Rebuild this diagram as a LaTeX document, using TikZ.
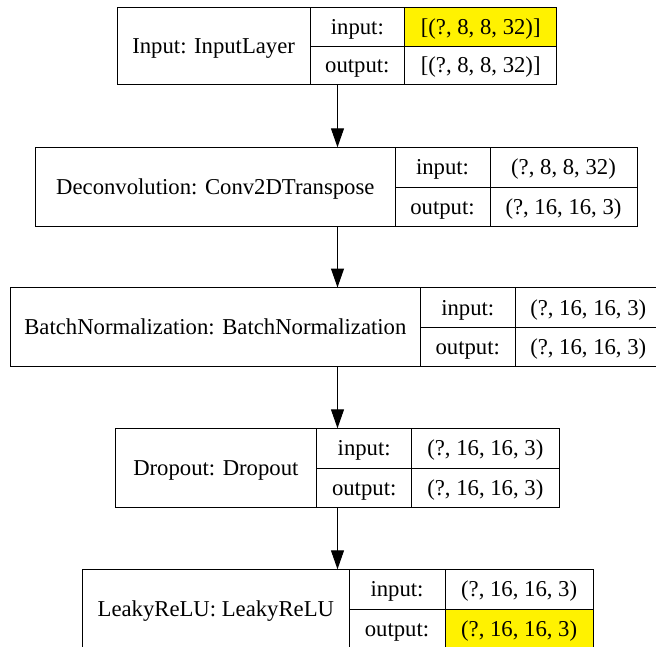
\documentclass[tikz,border=0pt]{standalone}
\usepackage{fontspec}
\setmainfont{Liberation Serif}
\usetikzlibrary{arrows.meta}

% One layer record: frame, dividers, layer name and the input:/output: keys.
% #1 name, #2 left, #3 first divider, #4 second divider, #5 right,
% #6 top, #7 row split, #8 bottom, #9 layer caption
\newcommand\layerrecord[9]{%
  \node[frame, anchor=north west, minimum width={#5-#2}, minimum height={#8-#6}] (#1) at (#2,#6) {};
  \draw[cell] (#3,#6) -- (#3,#8);
  \draw[cell] (#4,#6) -- (#4,#8);
  \draw[cell] (#3,#7) -- (#5,#7);
  \node[lbl] (#1-name) at ({(#2+#3)/2},{(#6+#8)/2}) {#9};
  \node[lbl] (#1-inkey) at ({(#3+#4)/2},{(#6+#7)/2}) {input:};
  \node[lbl] (#1-outkey) at ({(#3+#4)/2},{(#7+#8)/2}) {output:};
}
% Shape values: #1 name, #2 left of value column, #3 right,
% #4 top, #5 row split, #6 bottom, #7 input shape, #8 output shape
\newcommand\layershapes[8]{%
  \node[lbl] (#1-in) at ({(#2+#3)/2},{(#4+#5)/2}) {#7};
  \node[lbl] (#1-out) at ({(#2+#3)/2},{(#5+#6)/2}) {#8};
}

\begin{document}
\begin{tikzpicture}[x=1pt,y=-1pt,
  frame/.style={draw=black, line width=1pt, inner sep=0pt, outer sep=0pt},
  cell/.style={draw=black, line width=1pt},
  lbl/.style={font=\fontsize{22.7}{27}\selectfont, inner sep=0pt, text height=15pt, text depth=0pt, anchor=center},
  flow/.style={draw=black, line width=1pt, -{Triangle[length=19pt,width=13pt]}},
  hilite/.style={fill=yellow}]
\useasboundingbox (0,0) rectangle (656,646);
\clip (0,0) rectangle (656,646);
\fill[white] (0,0) rectangle (656,646);

% highlighted shape cells
\fill[hilite] (404.7,7.3) rectangle (556.7,46.7);
\fill[hilite] (445,609) rectangle (593.3,648);

\layerrecord{b1}{117.3}{310}{404.7}{556.7}{7.3}{46.7}{84}{Input: InputLayer}
\layershapes{b1}{404.7}{556.7}{7.3}{46.7}{84}{[(?, 8, 8, 32)]}{[(?, 8, 8, 32)]}

\layerrecord{b2}{35.7}{395}{490}{637}{147.3}{187.5}{226}{Deconvolution: Conv2DTranspose}
\layershapes{b2}{490}{637}{147.3}{187.5}{226}{(?, 8, 8, 32)}{(?, 16, 16, 3)}

\layerrecord{b3}{10.7}{420}{515.5}{661}{287.5}{327.5}{366}{BatchNormalization: BatchNormalization}
\layershapes{b3}{515.5}{661}{287.5}{327.5}{366}{(?, 16, 16, 3)}{(?, 16, 16, 3)}

\layerrecord{b4}{115}{316.7}{411.7}{559}{428.3}{468.5}{507}{Dropout: Dropout}
\layershapes{b4}{411.7}{559}{428.3}{468.5}{507}{(?, 16, 16, 3)}{(?, 16, 16, 3)}

\layerrecord{b5}{82.7}{349}{445}{593.3}{569.3}{609}{648}{LeakyReLU: LeakyReLU}
\layershapes{b5}{445}{593.3}{569.3}{609}{648}{(?, 16, 16, 3)}{(?, 16, 16, 3)}

% data flow between layers
\coordinate (spine) at (337.5,0);
\draw[flow] (b1.south -| spine) -- (b2.north -| spine);
\draw[flow] (b2.south -| spine) -- (b3.north -| spine);
\draw[flow] (b3.south -| spine) -- (b4.north -| spine);
\draw[flow] (b4.south -| spine) -- (b5.north -| spine);
\end{tikzpicture}
\end{document}
